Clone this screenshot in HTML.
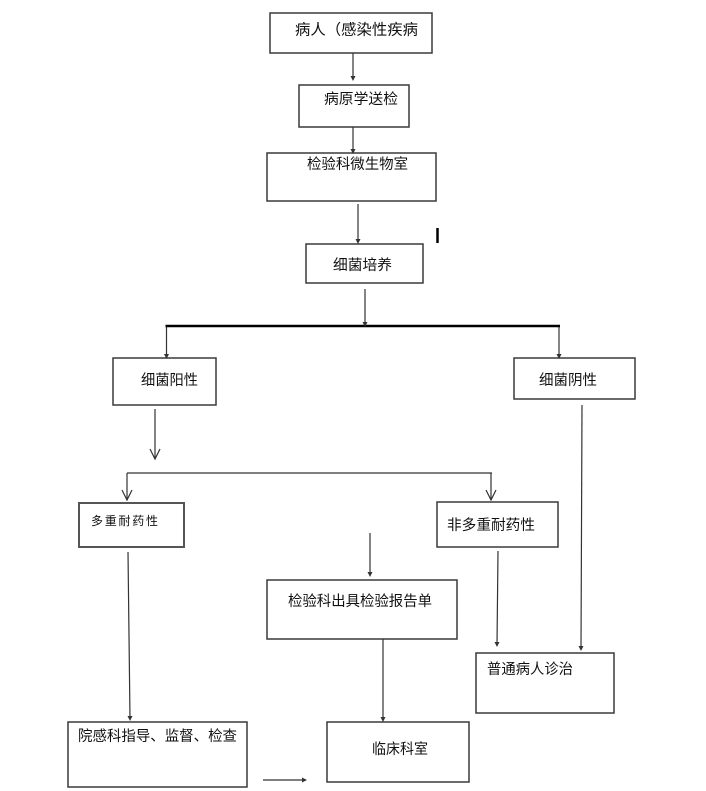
<!DOCTYPE html>
<html>
<head>
<meta charset="utf-8">
<style>
  html,body{margin:0;padding:0;background:#fff;}
  body{width:706px;height:791px;overflow:hidden;}
  svg{display:block;}
  text{font-family:"Liberation Sans","Noto Sans CJK SC","WenQuanYi Zen Hei",sans-serif;fill:#111;dominant-baseline:central;}
</style>
</head>
<body>
<svg width="706" height="791" viewBox="0 0 706 791" xmlns="http://www.w3.org/2000/svg">
  <g fill="#fff" stroke="#3a3a3a" stroke-width="1.5">
    <rect x="270" y="13" width="162" height="40"/>
    <rect x="299" y="85" width="110" height="42"/>
    <rect x="267" y="153" width="169" height="48"/>
    <rect x="306" y="244" width="117" height="39"/>
    <rect x="113" y="358" width="103" height="47"/>
    <rect x="514" y="358" width="121" height="41"/>
    <rect x="79" y="503" width="105" height="44" stroke="#555" stroke-width="2"/>
    <rect x="437" y="502" width="121" height="45"/>
    <rect x="267" y="580" width="190" height="59"/>
    <rect x="476" y="653" width="138" height="60"/>
    <rect x="68" y="722" width="179" height="65"/>
    <rect x="327" y="722" width="142" height="60"/>
  </g>

  <g font-size="14.5">
    <text x="295" y="30" font-size="15" textLength="123" lengthAdjust="spacingAndGlyphs">病人（感染性疾病</text>
    <text x="324" y="100" textLength="74" lengthAdjust="spacingAndGlyphs">病原学送检</text>
    <text x="307" y="165" textLength="101" lengthAdjust="spacingAndGlyphs">检验科微生物室</text>
    <text x="333" y="266" textLength="59" lengthAdjust="spacingAndGlyphs">细菌培养</text>
    <text x="141" y="381" textLength="57" lengthAdjust="spacingAndGlyphs">细菌阳性</text>
    <text x="539" y="381" textLength="58" lengthAdjust="spacingAndGlyphs">细菌阴性</text>
    <text x="91" y="521" font-size="12" textLength="67" lengthAdjust="spacing">多重耐药性</text>
    <text x="447" y="526" textLength="88" lengthAdjust="spacingAndGlyphs">非多重耐药性</text>
    <text x="288" y="602" textLength="144" lengthAdjust="spacingAndGlyphs">检验科出具检验报告单</text>
    <text x="487" y="670" textLength="86" lengthAdjust="spacingAndGlyphs">普通病人诊治</text>
    <text x="78" y="737" textLength="159" lengthAdjust="spacingAndGlyphs">院感科指导、监督、检查</text>
    <text x="372" y="750" textLength="56" lengthAdjust="spacingAndGlyphs">临床科室</text>
  </g>

  <!-- thin connectors -->
  <g stroke="#333" stroke-width="1.2" fill="none">
    <line x1="353" y1="53" x2="353" y2="79"/>
    <line x1="353" y1="127" x2="353" y2="152"/>
    <line x1="358" y1="204" x2="358" y2="242"/>
    <line x1="365" y1="289" x2="365" y2="325"/>
    <line x1="166.5" y1="326" x2="166.5" y2="357"/>
    <line x1="559" y1="326" x2="559" y2="357"/>
    <line x1="155" y1="409" x2="155" y2="459"/>
    <line x1="127" y1="473" x2="492" y2="473"/>
    <line x1="127" y1="473" x2="127" y2="500"/>
    <line x1="491" y1="473" x2="491" y2="500"/>
    <line x1="128" y1="552" x2="130" y2="719"/>
    <line x1="370" y1="533" x2="370" y2="575"/>
    <line x1="383" y1="639" x2="383" y2="720"/>
    <line x1="498" y1="551" x2="497" y2="645"/>
    <line x1="582" y1="405" x2="581" y2="649"/>
    <line x1="263" y1="780" x2="305" y2="780"/>
    <!-- open V heads -->
    <polyline points="150,449 155,459 160,449"/>
    <polyline points="122,490 127,500 132,490"/>
    <polyline points="486,490 491,500 496,490"/>
  </g>

  <!-- thick lines -->
  <g stroke="#000" stroke-width="2.5" fill="none">
    <line x1="165.5" y1="326" x2="560" y2="326"/>
    <line x1="437.5" y1="228" x2="437.5" y2="243"/>
  </g>

  <!-- small filled arrowheads -->
  <g fill="#333">
    <polygon points="350.5,76 355.5,76 353,81"/>
    <polygon points="350.5,149 355.5,149 353,154"/>
    <polygon points="355.5,239 360.5,239 358,244"/>
    <polygon points="362.5,322 367.5,322 365,327"/>
    <polygon points="164,354 169,354 166.5,359"/>
    <polygon points="556.5,354 561.5,354 559,359"/>
    <polygon points="127.5,716 132.5,716 130,721"/>
    <polygon points="367.5,572 372.5,572 370,577"/>
    <polygon points="380.5,717 385.5,717 383,722"/>
    <polygon points="494.5,642 499.5,642 497,647"/>
    <polygon points="578.5,646 583.5,646 581,651"/>
    <polygon points="302,777.5 302,782.5 307,780"/>
  </g>
</svg>
</body>
</html>
